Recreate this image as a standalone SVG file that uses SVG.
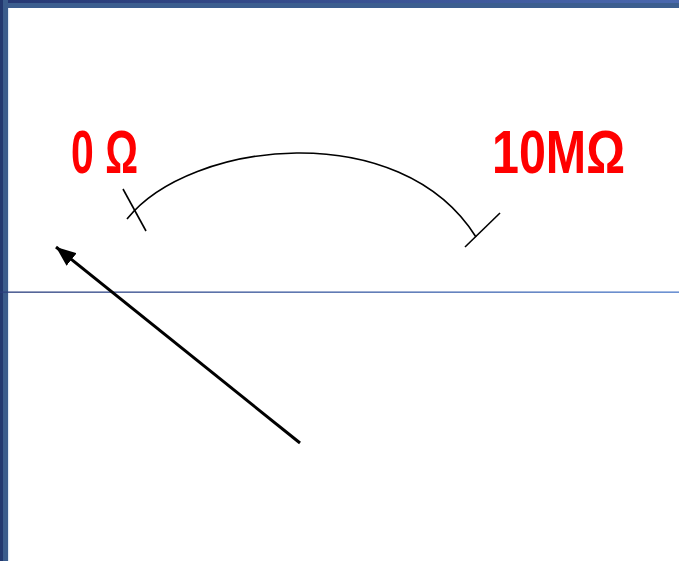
<svg xmlns="http://www.w3.org/2000/svg" width="679" height="561" viewBox="0 0 679 561">
<defs>
<linearGradient id="topg" x1="0" y1="0" x2="1" y2="0"><stop offset="0" stop-color="#263873"/><stop offset="1" stop-color="#4a68ae"/></linearGradient>
<linearGradient id="lineg" gradientUnits="userSpaceOnUse" x1="0" y1="0" x2="679" y2="0"><stop offset="0" stop-color="#2a3d7c"/><stop offset="1" stop-color="#4a78c8"/></linearGradient>
<marker id="arr" viewBox="0 0 20 16" refX="20" refY="8" markerWidth="20" markerHeight="16" orient="auto" markerUnits="userSpaceOnUse"><path d="M0,0 L20,8 L0,16 Z" fill="#000"/></marker>
</defs>
<style>
.lbl{font-family:"Liberation Sans",Arial,sans-serif;font-weight:bold;fill:#ff0000;font-size:62px}
.thin{stroke:#000;stroke-width:1.6;fill:none}
</style>
<rect width="679" height="561" fill="#fff"/>
<g id="frame">
<rect x="0" y="0" width="679" height="8" fill="#3c5e8f"/>
<rect x="0" y="0" width="679" height="3" fill="url(#topg)"/>
<rect x="0" y="0" width="8" height="561" fill="#3a5c8c"/>
<rect x="0" y="0" width="3" height="561" fill="#22386f"/>
<rect x="8" y="8" width="1.2" height="553" fill="#dfe9f5"/>
</g>
<g id="axis">
<rect x="0" y="291.5" width="679" height="1.3" fill="url(#lineg)"/>
</g>
<g id="label-0">
<text class="lbl" x="71" y="173" textLength="67" lengthAdjust="spacingAndGlyphs">0 Ω</text>
</g>
<g id="label-10M">
<text class="lbl" x="492" y="173" textLength="133" lengthAdjust="spacingAndGlyphs">10MΩ</text>
</g>
<g id="scale">
<path class="thin" d="M127,219 C190,140 400,116 476,237"/>
<line class="thin" x1="123" y1="189" x2="146" y2="231"/>
<line class="thin" x1="465" y1="247" x2="500" y2="213"/>
</g>
<g id="connectors">
<line x1="300" y1="443" x2="56" y2="247" stroke="#000" stroke-width="3" marker-end="url(#arr)"/>
</g>
</svg>
